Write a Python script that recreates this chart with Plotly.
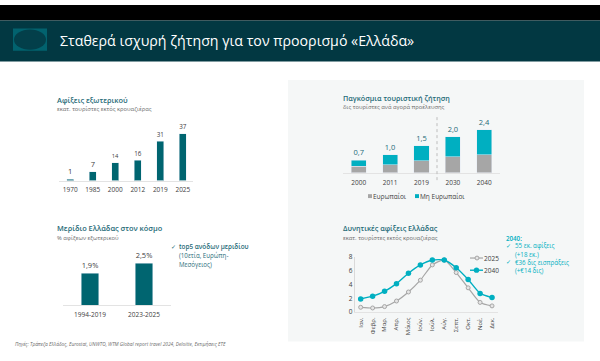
import plotly.graph_objects as go

FONT = "Open Sans"
TEAL = "#006570"
CYAN = "#00AFC1"
GREY = "#A6A6A6"
TITLE = "#1F6B78"
TXT = "#404040"
SUB = "#6B6B6B"

arrivals_years = ["1970", "1985", "2000", "2012", "2019", "2025"]
arrivals_values = [1, 7, 14, 16, 31, 37]

share_periods = ["1994-2019", "2023-2025"]
share_values = [1.9, 2.5]

demand_years = ["2000", "2011", "2019", "2030", "2040"]
demand_europeans = [0.36, 0.45, 0.67, 0.89, 1.0]
demand_non_europeans = [0.34, 0.55, 0.83, 1.11, 1.4]
demand_totals = ["0,7", "1,0", "1,5", "2,0", "2,4"]

months = ["Ιαν.", "Φεβρ.", "Μαρ.", "Απρ.", "Μάιος", "Ιούν.", "Ιούλ.", "Αύγ.", "Σεπτ.", "Οκτ.", "Νοέ.", "Δεκ."]
arrivals_2025 = [0.7, 0.6, 0.8, 1.6, 2.9, 4.6, 6.8, 7.5, 5.7, 3.5, 1.4, 0.9]
arrivals_2040 = [1.9, 2.3, 3.0, 4.1, 5.6, 6.8, 7.5, 7.5, 6.4, 4.7, 2.7, 2.1]

W, H = 600, 361


def dx(a, b):
    return [a / W, b / W]


def dy(top, bottom):
    return [1 - bottom / H, 1 - top / H]


fig = go.Figure()

# chart 1
fig.add_trace(go.Bar(x=arrivals_years, y=arrivals_values, xaxis="x", yaxis="y", marker_color=TEAL, width=0.32,
                     text=arrivals_values, textposition="outside", cliponaxis=False,
                     textfont=dict(size=7.5, color=TXT, family=FONT), showlegend=False))
# chart 2
fig.add_trace(go.Bar(x=share_periods, y=share_values, xaxis="x2", yaxis="y2", marker_color=TEAL, width=0.32,
                     text=[f"{v:.1f}%".replace(".", ",") for v in share_values], textposition="outside",
                     cliponaxis=False, textfont=dict(size=7.5, color=TXT, family=FONT), showlegend=False))
# chart 3
fig.add_trace(go.Bar(x=demand_years, y=demand_europeans, name="Ευρωπαίοι", xaxis="x3", yaxis="y3",
                     marker_color=GREY, width=0.48, showlegend=False))
fig.add_trace(go.Bar(x=demand_years, y=demand_non_europeans, name="Μη Ευρωπαίοι", xaxis="x3", yaxis="y3",
                     marker_color=CYAN, width=0.48, showlegend=False, text=demand_totals, textposition="outside",
                     cliponaxis=False, textfont=dict(size=7.5, color=TITLE, family=FONT)))
# chart 4
fig.add_trace(go.Scatter(x=months, y=arrivals_2025, name="2025", xaxis="x4", yaxis="y4", mode="lines+markers",
                         line=dict(color=GREY, width=1.2, shape="spline", smoothing=0.6),
                         marker=dict(size=4, color="#E6E6E6", line=dict(color=GREY, width=1)), showlegend=False))
fig.add_trace(go.Scatter(x=months, y=arrivals_2040, name="2040", xaxis="x4", yaxis="y4", mode="lines+markers",
                         line=dict(color=CYAN, width=1.4, shape="spline", smoothing=0.6),
                         marker=dict(size=5.5, color=CYAN), showlegend=False))


def paper_rect(x0, x1, top, bottom, color, kind="rect"):
    return dict(type=kind, xref="paper", yref="paper", x0=x0 / W, x1=x1 / W, y0=1 - bottom / H, y1=1 - top / H,
                fillcolor=color, line_width=0, layer="below")


def paper_line(x0, x1, y0, y1, color, width=1, dash="solid"):
    return dict(type="line", xref="paper", yref="paper", x0=x0 / W, x1=x1 / W, y0=1 - y0 / H, y1=1 - y1 / H,
                line=dict(color=color, width=width, dash=dash))


shapes = [
    paper_rect(0, 600, 0, 16, "#000000"),
    paper_rect(0, 600, 16, 58, "#023842"),
    paper_rect(13, 47, 24, 47, "#02626E"),
    paper_rect(14, 46, 25, 46, "#033F4A", "circle"),
    paper_rect(288, 584, 77, 345, "#F5F7F7"),
    paper_line(437, 437, 115, 182, "#BDBDBD", 1, "dot"),
    # legend keys
    paper_rect(368, 372, 194, 198, GREY),
    paper_rect(415, 419, 194, 198, CYAN),
    paper_line(470, 483, 259.5, 259.5, GREY, 1.2),
    paper_line(470, 483, 272, 272, CYAN, 1.4),
    dict(type="circle", xref="paper", yref="paper", x0=475 / W, x1=479 / W, y0=1 - 261.5 / H, y1=1 - 257.5 / H,
         fillcolor="#E6E6E6", line=dict(color=GREY, width=1)),
    paper_rect(473.8, 479.2, 269.3, 274.7, CYAN, "circle"),
]
shapes[-1]["layer"] = "above"


def note(x, y, text, size=7, color=TXT, bold=False, anchor="left"):
    return dict(xref="paper", yref="paper", x=x / W, y=1 - y / H, text=text,
                showarrow=False, xanchor=anchor, yanchor="middle", align="left", borderpad=0, borderwidth=0,
                font=dict(size=size, color=color, family=FONT, weight=600 if bold else 400))


annotations = [
    note(60, 36, "Σταθερά ισχυρή ζήτηση για τον προορισμό «Ελλάδα»", 14.2, "#FFFFFF"),
    note(57, 97, "Αφίξεις εξωτερικού", 7.4, TITLE, True),
    note(57, 107, "εκατ. τουρίστες εκτός κρουαζιέρας", 5.8, SUB),
    note(57, 229, "Μερίδιο Ελλάδας στον κόσμο", 7.4, TITLE, True),
    note(57, 239, "% αφίξεων εξωτερικού", 5.8, SUB),
    note(171, 248, "✓", 6, TITLE),
    note(179, 248, "top5 ανόδων μεριδίου", 6.4, TITLE, True),
    note(179, 257, "(10ετία, Ευρώπη-", 6.2, TITLE),
    note(179, 266, "Μεσόγειος)", 6.2, TITLE),
    note(343, 95, "Παγκόσμια τουριστική ζήτηση", 7.2, TITLE, True),
    note(343, 105, "δις τουρίστες ανά αγορά προέλευσης", 5.8, SUB),
    note(373, 196, "Ευρωπαίοι", 6.5, TXT),
    note(420, 196, "Μη Ευρωπαίοι", 6.5, TXT),
    note(343, 229, "Δυνητικές αφίξεις Ελλάδας", 7.2, TITLE, True),
    note(343, 239, "εκατ. τουρίστες εκτός κρουαζιέρας", 5.8, SUB),
    note(484, 259.5, "2025", 6.5, TXT),
    note(484, 272, "2040", 6.5, TXT),
    note(506, 239, "2040:", 6.2, CYAN, True),
    note(506, 247, "✓", 5.5, CYAN),
    note(515, 247, "55 εκ. αφίξεις", 6.2, CYAN),
    note(515, 256, "(+18 εκ.)", 6.2, CYAN),
    note(506, 264, "✓", 5.5, CYAN),
    note(515, 264, "€36 δις εισπράξεις", 6.2, CYAN),
    note(515, 272.5, "(+€14 δις)", 6.2, CYAN),
    note(15, 348, "<i>Πηγές: Τράπεζα Ελλάδος, Eurostat, UNWTO, WTM Global report travel 2024, Deloitte, Εκτιμήσεις ΕΤΕ</i>", 4.8, SUB),
]

base_x = dict(showgrid=False, zeroline=False, showline=True, linecolor="#E3E3E3", linewidth=1, ticks="",
              type="category", tickfont=dict(size=6.5, color=TXT, family=FONT), fixedrange=True,
              ticklabelstandoff=3)
hidden_y = dict(visible=False, showgrid=False, zeroline=False, fixedrange=True, rangemode="tozero")

fig.update_layout(
    width=W, height=H, margin=dict(l=0, r=0, t=0, b=0), autosize=False, showlegend=False,
    paper_bgcolor="#FFFFFF", plot_bgcolor="rgba(0,0,0,0)", barmode="stack",
    shapes=shapes, annotations=annotations, font=dict(family=FONT),
    xaxis=dict(base_x, domain=dx(59, 193), anchor="y", range=[-0.5, 5.45]),
    yaxis=dict(hidden_y, domain=dy(120, 180), anchor="x", range=[0, 37 * 60 / 48]),
    xaxis2=dict(base_x, domain=dx(63, 171), anchor="y2", range=[-0.5, 1.5]),
    yaxis2=dict(hidden_y, domain=dy(250, 308), anchor="x2", range=[0, 2.5 * 58 / 43]),
    xaxis3=dict(base_x, domain=dx(343, 500), anchor="y3", range=[-0.5, 4.5]),
    yaxis3=dict(hidden_y, domain=dy(110, 172), anchor="x3", range=[0, 2.4 * 62 / 44]),
    xaxis4=dict(base_x, domain=dx(354.7, 498), anchor="y4", range=[-0.5, 11.5], tickangle=-90,
                ticklabelstandoff=2, tickfont=dict(size=6, color=TXT, family=FONT)),
    yaxis4=dict(domain=dy(258, 315), anchor="x4", range=[0, 8], dtick=2, showgrid=False, zeroline=False,
                showline=True, linecolor="#D9D9D9", linewidth=1, ticks="", fixedrange=True,
                tickfont=dict(size=6.5, color=TXT, family=FONT)),
)

fig.write_html("out.html", config=dict(displayModeBar=False),
               post_script="document.body.style.margin='0';")
